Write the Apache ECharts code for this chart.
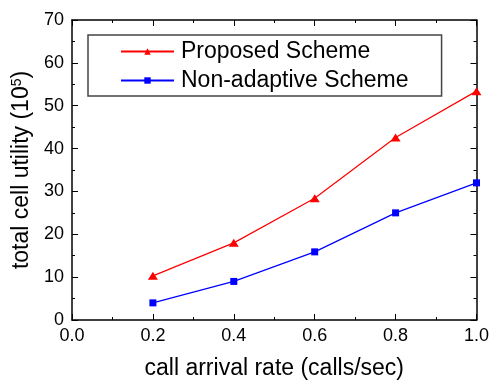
<!DOCTYPE html>
<html><head><meta charset="utf-8">
<script src="https://cdn.jsdelivr.net/npm/echarts@6/dist/echarts.min.js"></script>
<style>html,body{margin:0;padding:0;background:#fff}#c{width:492px;height:385px}</style>
</head><body><div id="c"></div>
<script>
const xValues = [0.2, 0.4, 0.6, 0.8, 1.0];
const proposed = [10.3, 18.0, 28.4, 42.6, 53.4];
const nonAdaptive = [4.0, 9.0, 15.9, 25.0, 32.0];
const seriesNames = ['Proposed Scheme', 'Non-adaptive Scheme'];

const FONT = 'Liberation Sans, Arial, sans-serif';
const chart = echarts.init(document.getElementById('c'));
const axisCommon = {
  axisLine: {show: true, onZero: false, lineStyle: {color: '#000', width: 1.5}},
  axisTick: {show: true, inside: true, length: 6, lineStyle: {color: '#000', width: 1}},
  minorTick: {show: true, splitNumber: 2, length: 3, lineStyle: {color: '#000', width: 1}},
  splitLine: {show: false}
};
chart.setOption({
  animation: false,
  grid: {left: 72, right: 13, top: 20, bottom: 60},
  legend: {
    left: 88, top: 35, orient: 'vertical',
    data: seriesNames,
    itemWidth: 53, itemHeight: 8, itemGap: 6,
    padding: [5, 33, 4, 32],
    borderColor: '#444', borderWidth: 1.5,
    textStyle: {fontFamily: FONT, fontSize: 23, color: '#000', padding: [0, 0, 0, 2]}
  },
  xAxis: [
    Object.assign({type: 'value', min: 0, max: 1, interval: 0.2, position: 'bottom',
      name: 'call arrival rate (calls/sec)', nameLocation: 'middle', nameGap: 37,
      nameTextStyle: {fontFamily: FONT, fontSize: 23, color: '#000'},
      axisLabel: {fontFamily: FONT, fontSize: 18, color: '#000', margin: 7,
        formatter: v => v.toFixed(1)}}, axisCommon),
    Object.assign({type: 'value', min: 0, max: 1, interval: 0.2, position: 'top',
      axisLabel: {show: false}}, axisCommon)
  ],
  yAxis: [
    Object.assign({type: 'value', min: 0, max: 70, interval: 10, position: 'left',
      name: '{a|total cell utility (10}{s|5}{a|)}', nameLocation: 'middle', nameGap: 36,
      nameTextStyle: {rich: {
        a: {fontFamily: FONT, fontSize: 23, color: '#000'},
        s: {fontFamily: FONT, fontSize: 14, color: '#000', verticalAlign: 'top', padding: [0, 0, 9, 0]}
      }},
      axisLabel: {fontFamily: FONT, fontSize: 18, color: '#000', margin: 8}}, axisCommon),
    Object.assign({type: 'value', min: 0, max: 70, interval: 10, position: 'right',
      axisLabel: {show: false}}, axisCommon)
  ],
  series: [
    {name: seriesNames[0], type: 'line', data: xValues.map((x, i) => [x, proposed[i]]),
      symbol: 'triangle', symbolSize: [10, 8], color: '#ff0000',
      lineStyle: {width: 1.2, color: '#ff0000'}, itemStyle: {color: '#ff0000'}},
    {name: seriesNames[1], type: 'line', data: xValues.map((x, i) => [x, nonAdaptive[i]]),
      symbol: 'rect', symbolSize: 7, color: '#0000ff',
      lineStyle: {width: 1.2, color: '#0000ff'}, itemStyle: {color: '#0000ff'}}
  ]
});
</script></body></html>
